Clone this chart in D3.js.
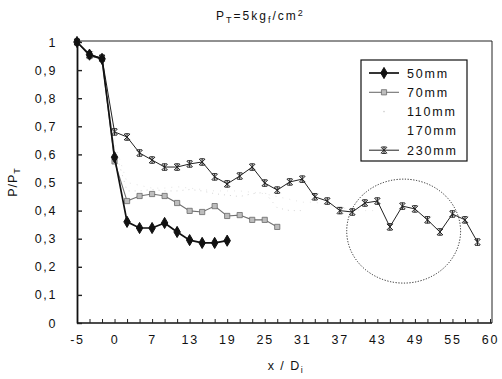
<!DOCTYPE html>
<html>
<head>
<meta charset="utf-8">
<script src="https://cdn.jsdelivr.net/npm/d3@7/dist/d3.min.js"></script>
<style>
  html, body { margin: 0; padding: 0; background: #fff; }
  svg { display: block; }
  text { font-family: "Liberation Sans", Arial, sans-serif; fill: #111; }
</style>
</head>
<body>
<svg id="chart" width="502" height="379"></svg>
<script>
// x / Di positions along the pipe (category axis, labelled every third entry)
const categories = [-5, -3, -2, 0, 2, 5, 7, 9, 11, 13, 15, 17, 19, 21, 23, 25, 27, 29,
                    31, 33, 35, 37, 39, 41, 43, 45, 47, 49, 51, 53, 55, 57, 59, 60];
const tickLabels = ["-5", "0", "7", "13", "19", "25", "31", "37", "43", "49", "55", "60"];
const yTicks = [0, 0.1, 0.2, 0.3, 0.4, 0.5, 0.6, 0.7, 0.8, 0.9, 1];

// P/PT for each pipe diameter
const seriesNames = ["50mm", "70mm", "110mm", "170mm", "230mm"];
const p50  = [1.0, 0.955, 0.94, 0.59, 0.36, 0.338, 0.338, 0.356, 0.324, 0.295, 0.285, 0.285, 0.293];
const p70  = [1.0, 0.95, 0.94, 0.575, 0.434, 0.452, 0.459, 0.452, 0.427, 0.399, 0.395, 0.416, 0.381,
              0.384, 0.367, 0.367, 0.342];
const p110 = [1.0, 0.95, 0.94, 0.62, 0.47, 0.47, 0.475, 0.47, 0.47, 0.475, 0.47, 0.46, 0.455, 0.45,
              0.46, 0.465, 0.41, 0.40, 0.40];
const p170 = [1.0, 0.95, 0.94, 0.64, 0.50, 0.49, 0.48, 0.48, 0.485, 0.48, 0.475, 0.47, 0.47, 0.47,
              0.465, 0.46, 0.45, 0.44, 0.43, 0.43, 0.42, 0.41, 0.405, 0.40, 0.40];
const p230 = [1.0, 0.955, 0.943, 0.68, 0.662, 0.605, 0.58, 0.555, 0.555, 0.566, 0.573, 0.52, 0.495,
              0.523, 0.555, 0.498, 0.473, 0.502, 0.512, 0.449, 0.434, 0.40, 0.395, 0.427, 0.434,
              0.342, 0.416, 0.406, 0.367, 0.324, 0.388, 0.367, 0.288];

// dotted ring around the oscillating tail of the 230mm curve (data units)
const ring = { cat: 26.1, value: 0.327, rCat: 4.55, rValue: 0.185 };

const svg = d3.select("#chart");
const plotLeft = 77, plotRight = 490, plotTop = 42, plotBottom = 323, frameRight = 492;

const x = d3.scaleLinear().domain([0, categories.length - 1]).range([plotLeft, plotRight]);
const y = d3.scaleLinear().domain([0, 1]).range([plotBottom, plotTop]);

// plot frame (top and right edges)
svg.append("path")
  .attr("d", `M${plotLeft},${plotTop - 1}H${frameRight}V${plotBottom}`)
  .attr("fill", "none").attr("stroke", "#222").attr("stroke-width", 1);

// x axis: a tick per category, labels every third
const labelled = d3.range(0, categories.length, 3);
const xAxis = d3.axisBottom(x)
  .tickValues(d3.range(categories.length))
  .tickSizeInner(-4).tickSizeOuter(0).tickPadding(12)
  .tickFormat(i => labelled.includes(i) ? tickLabels[labelled.indexOf(i)] : "");
const gx = svg.append("g").attr("transform", `translate(0,${plotBottom})`).call(xAxis);
gx.select(".domain").attr("d", `M${plotLeft},0H${frameRight}`).attr("stroke", "#111").attr("stroke-width", 1.6);
gx.selectAll(".tick line").attr("stroke", "#222");
gx.selectAll(".tick text").attr("font-size", 12.5).attr("letter-spacing", 1.8)
  .attr("font-family", "Liberation Sans, Arial, sans-serif").attr("fill", "#111");

// y axis with inward ticks
const yAxis = d3.axisLeft(y).tickValues(yTicks)
  .tickSizeInner(-5).tickSizeOuter(0).tickPadding(20)
  .tickFormat(d => d === 0 ? "0" : d === 1 ? "1" : d3.format(".1f")(d).replace(".", ","));
const gy = svg.append("g").attr("transform", `translate(${plotLeft},0)`).call(yAxis);
gy.select(".domain").attr("stroke", "#111").attr("stroke-width", 1.8);
gy.selectAll(".tick line").attr("stroke", "#222").attr("stroke-width", 1.4);
gy.selectAll(".tick text").attr("font-size", 12.5).attr("letter-spacing", 1.6)
  .attr("font-family", "Liberation Sans, Arial, sans-serif").attr("fill", "#111");

// marker shapes
const diamond = d3.symbol().type(d3.symbolDiamond).size(36)();
const square = "M-2.6,-2.6H2.6V2.6H-2.6Z";
const star = "M-3,-3L3,3M3,-3L-3,3M0,-3.5V3.5M-2.5,-3.2H2.5M-2.5,3.2H2.5";

const line = d3.line().x((d, i) => x(i)).y(d => y(d));

function drawSeries(data, opt) {
  const g = svg.append("g");
  g.append("path").datum(data).attr("d", line)
    .attr("fill", "none").attr("stroke", opt.stroke).attr("stroke-width", opt.width)
    .attr("stroke-dasharray", opt.dash || null);
  if (opt.marker) {
    g.selectAll("path.m").data(data).join("path").attr("class", "m")
      .attr("transform", (d, i) => `translate(${x(i)},${y(d)})`)
      .attr("d", opt.marker)
      .attr("fill", opt.fill).attr("stroke", opt.mstroke).attr("stroke-width", opt.mwidth || 1);
  }
}

const styles = {
  "110mm": { stroke: "#d6d6d6", width: 1, dash: "1 5" },
  "170mm": { stroke: "#e6e6e6", width: 1, dash: "1 6" },
  "70mm":  { stroke: "#707070", width: 1.1, marker: square, fill: "#bdbdbd", mstroke: "#6a6a6a", mwidth: 0.8 },
  "50mm":  { stroke: "#111", width: 1.7, marker: diamond, fill: "#111", mstroke: "#111" },
  "230mm": { stroke: "#222", width: 1, marker: star, fill: "none", mstroke: "#222", mwidth: 1 }
};
drawSeries(p110, styles["110mm"]);
drawSeries(p170, styles["170mm"]);
drawSeries(p70, styles["70mm"]);
drawSeries(p230, styles["230mm"]);
drawSeries(p50, styles["50mm"]);

// dotted ring annotation
svg.append("ellipse")
  .attr("cx", x(ring.cat)).attr("cy", y(ring.value))
  .attr("rx", x(ring.cat + ring.rCat) - x(ring.cat))
  .attr("ry", y(ring.value - ring.rValue) - y(ring.value))
  .attr("fill", "none").attr("stroke", "#222").attr("stroke-width", 1)
  .attr("stroke-dasharray", "1.2 1.6");

// legend
const lg = svg.append("g").attr("transform", "translate(361,60)");
lg.append("rect").attr("width", 106).attr("height", 101)
  .attr("fill", "#fff").attr("stroke", "#111").attr("stroke-width", 1.2);
seriesNames.forEach((name, k) => {
  const cy = 13 + k * 19.3;
  const st = styles[name];
  if (name === "110mm") {
    lg.append("circle").attr("cx", 23).attr("cy", cy).attr("r", 0.8).attr("fill", "#ccc");
  } else if (name !== "170mm") {
    lg.append("line").attr("x1", 8).attr("x2", 38).attr("y1", cy).attr("y2", cy)
      .attr("stroke", st.stroke).attr("stroke-width", st.width);
    lg.append("path").attr("transform", `translate(23,${cy})`).attr("d", st.marker)
      .attr("fill", st.fill).attr("stroke", st.mstroke).attr("stroke-width", st.mwidth || 1);
  }
  lg.append("text").attr("x", 46).attr("y", cy + 4.5)
    .attr("font-size", 12.5).attr("letter-spacing", 1.8).text(name);
});

// title: PT=5kgf/cm2
const title = svg.append("text").attr("x", 216).attr("y", 20).attr("font-size", 12)
  .attr("letter-spacing", 2);
title.append("tspan").text("P");
title.append("tspan").attr("dy", 3).attr("font-size", 9).text("T");
title.append("tspan").attr("dy", -3).text("=5kg");
title.append("tspan").attr("dy", 3).attr("font-size", 9).text("f");
title.append("tspan").attr("dy", -3).text("/cm");
title.append("tspan").attr("dy", -4).attr("font-size", 9).text("2");

// axis titles
const yt = svg.append("text").attr("transform", "translate(17,182) rotate(-90)")
  .attr("text-anchor", "middle").attr("font-size", 12.5).attr("letter-spacing", 1);
yt.append("tspan").text("P/P");
yt.append("tspan").attr("dy", 3).attr("font-size", 9).text("T");

const xt = svg.append("text").attr("x", 286).attr("y", 370)
  .attr("text-anchor", "middle").attr("font-size", 12.5).attr("letter-spacing", 1.5);
xt.append("tspan").text("x / D");
xt.append("tspan").attr("dy", 3).attr("font-size", 9).text("i");
</script>
</body>
</html>
